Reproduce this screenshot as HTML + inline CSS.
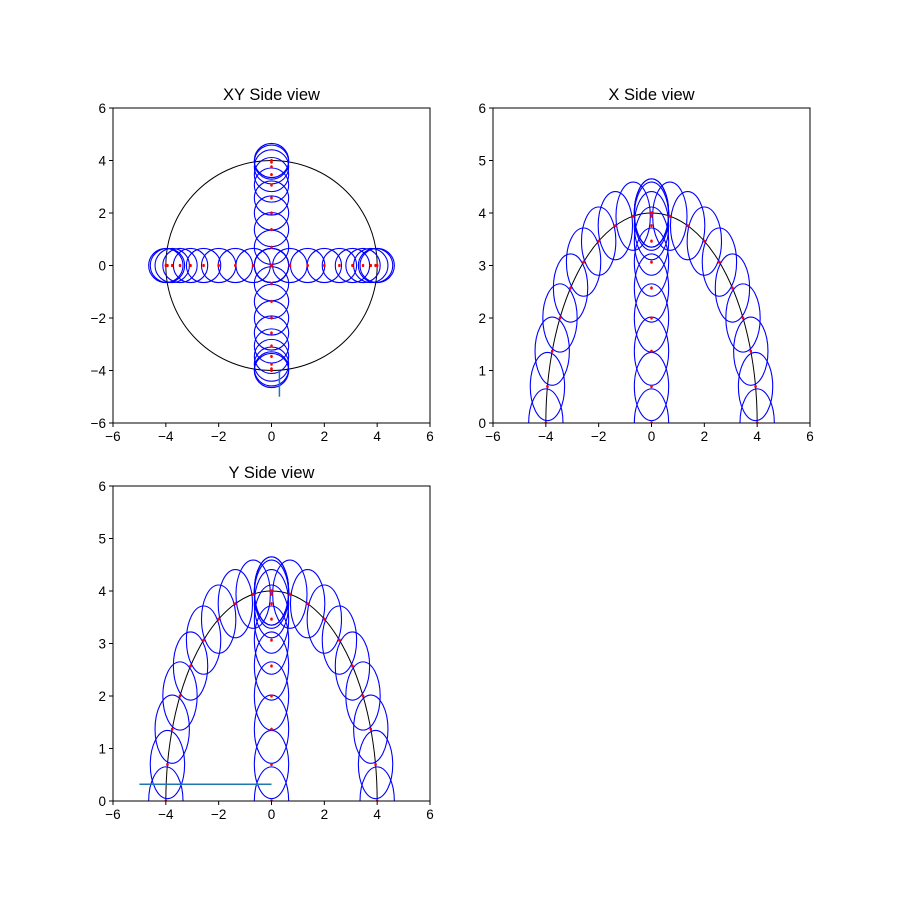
<!DOCTYPE html>
<html><head><meta charset="utf-8"><style>
html,body{margin:0;padding:0;background:#fff;width:900px;height:900px;overflow:hidden;position:relative}
svg{display:block;position:absolute;left:0;top:0}
svg text{font-family:"Liberation Sans","DejaVu Sans",sans-serif;fill:#000}
</style></head><body>
<svg id="fig" width="900" height="900" viewBox="0 0 900 900" xmlns="http://www.w3.org/2000/svg"></svg>
<script>
const anglesDeg = [0,10,20,30,40,50,60,70,80,90];
const armRadius = [4];
const sphereRadius = [0.65];
const xyTicks = [-6,-4,-2,0,2,4,6];
const sideYTicks = [0,1,2,3,4,5,6];
const xyLineX = [0.3,0.3];
const xyLineY = [-4,-5];
const ySideLineX = [-5,0];
const ySideLineZ = [0.32,0.32];

const NS="http://www.w3.org/2000/svg";
const svg=document.getElementById('fig');
function mk(tag,attrs,parent){const e=document.createElementNS(NS,tag);for(const k in attrs)e.setAttribute(k,attrs[k]);(parent||svg).appendChild(e);return e;}

function makeAxes(name,x0,y0,w,h,xmin,xmax,ymin,ymax,xt,yt,title){
  const g=mk('g',{});
  
  
  const sx=v=>x0+(v-xmin)/(xmax-xmin)*w;
  const sy=v=>y0+h-(v-ymin)/(ymax-ymin)*h;
  const clipId='clip-'+name;
  const cp=mk('clipPath',{id:clipId},g);
  mk('rect',{x:x0,y:y0,width:w,height:h},cp);
  const plot=mk('g',{'clip-path':'url(#'+clipId+')'},g);
  
  
  const frame=mk('rect',{x:x0,y:y0,width:w,height:h,fill:'none',stroke:'#000','stroke-width':1},g);
  
  
  xt.forEach(v=>{
    mk('line',{x1:sx(v),x2:sx(v),y1:y0+h,y2:y0+h+4,stroke:'#000','stroke-width':1},g);
    const t=mk('text',{x:sx(v),y:y0+h+18,'text-anchor':'middle','font-size':13.5},g);
    t.textContent=(v<0?'\u2212'+(-v):v);
    
    
  });
  yt.forEach(v=>{
    mk('line',{x1:x0-4,x2:x0,y1:sy(v),y2:sy(v),stroke:'#000','stroke-width':1},g);
    const t=mk('text',{x:x0-7,y:sy(v)+5,'text-anchor':'end','font-size':13.5},g);
    t.textContent=(v<0?'\u2212'+(-v):v);
    
    
  });
  const tt=mk('text',{x:x0+w/2,y:y0-8,'text-anchor':'middle','font-size':16.5},g);
  tt.textContent=title;
  
  
  const pxX=(w/(xmax-xmin)), pxY=(h/(ymax-ymin));
  return {plot,sx,sy,pxX,pxY};
}
function sphere(ax,cx,cy){
  const r=sphereRadius[0];
  const e=mk('ellipse',{cx:ax.sx(cx),cy:ax.sy(cy),rx:r*ax.pxX,ry:r*ax.pxY,fill:'none',stroke:'#0000ff','stroke-width':1.1},ax.plot);
  
  
}
function dot(ax,cx,cy){
  const d=mk('ellipse',{cx:ax.sx(cx),cy:ax.sy(cy),rx:1.3,ry:1.6,fill:'#ff0000'},ax.plot);
  
  
}
function bigCircle(ax){
  const R=armRadius[0];
  const e=mk('ellipse',{cx:ax.sx(0),cy:ax.sy(0),rx:R*ax.pxX,ry:R*ax.pxY,fill:'none',stroke:'#000','stroke-width':1},ax.plot);
  
  
}
function line(ax,xs,ys){
  const l=mk('line',{x1:ax.sx(xs[0]),y1:ax.sy(ys[0]),x2:ax.sx(xs[1]),y2:ax.sy(ys[1]),stroke:'#1f77b4','stroke-width':1.5},ax.plot);
  
  
}
const R=armRadius[0];
const rad=a=>a*Math.PI/180;

const a1=makeAxes('xy-side-view',113,108,317,315,-6,6,-6,6,xyTicks,xyTicks,'XY Side view');
bigCircle(a1);
anglesDeg.forEach(a=>{const c=R*Math.cos(rad(a));
  [[c,0],[-c,0],[0,c],[0,-c]].forEach(p=>sphere(a1,p[0],p[1]));});
anglesDeg.forEach(a=>{const c=R*Math.cos(rad(a));
  [[c,0],[-c,0],[0,c],[0,-c]].forEach(p=>dot(a1,p[0],p[1]));});
line(a1,xyLineX,xyLineY);

function side(name,x0,y0,title){
  const ax=makeAxes(name,x0,y0,317,315,-6,6,0,6,xyTicks,sideYTicks,title);
  bigCircle(ax);
  anglesDeg.forEach(a=>{const c=R*Math.cos(rad(a)),s=R*Math.sin(rad(a));
    sphere(ax,c,s);sphere(ax,-c,s);sphere(ax,0,s);});
  anglesDeg.forEach(a=>{const c=R*Math.cos(rad(a)),s=R*Math.sin(rad(a));
    dot(ax,c,s);dot(ax,-c,s);dot(ax,0,s);});
  return ax;
}
side('x-side-view',493,108,'X Side view');
const a3=side('y-side-view',113,486,'Y Side view');
line(a3,ySideLineX,ySideLineZ);
</script>
</body></html>
